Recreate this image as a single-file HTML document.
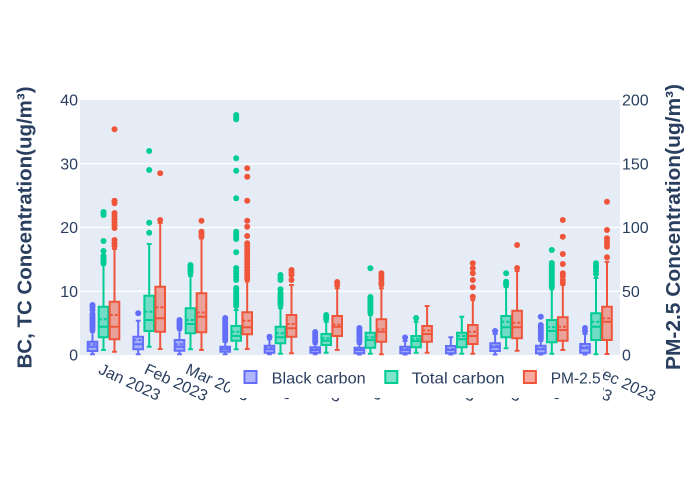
<!DOCTYPE html>
<html><head><meta charset="utf-8">
<style>
html,body{margin:0;padding:0;background:#fff;}
svg{display:block;font-family:"Liberation Sans",sans-serif;}
.ax{fill:#2a3f5f;font-size:16px;}
g.bx path{fill:none;stroke-width:2;}
.b path{stroke:#636efa}.b .f{fill:rgba(99,110,250,.5)}.b circle{fill:#636efa}
.t path{stroke:#00cc96}.t .f{fill:rgba(0,204,150,.5)}.t circle{fill:#00cc96}
.p path{stroke:#ef553b}.p .f{fill:rgba(239,85,59,.5)}.p circle{fill:#ef553b}
.d{stroke-dasharray:3 2}
</style></head><body>
<svg width="700" height="500" viewBox="0 0 700 500" xmlns="http://www.w3.org/2000/svg">
<rect width="700" height="500" fill="#fff"/>
<rect x="80" y="100" width="540" height="255" fill="#e5ecf6"/>
<g stroke="#fff" stroke-width="1.3">
<path d="M80 291.25H620M80 227.5H620M80 163.75H620"/>
</g>
<defs><clipPath id="c"><rect x="80" y="100" width="540" height="255.5"/></clipPath></defs>
<g clip-path="url(#c)">
<!-- Black carbon -->
<g class="bx b">
<g transform="translate(92.5 0)"><path class="f" d="M-4.8 341.7H4.8V351H-4.8Z"/><path d="M-4.8 346.7H4.8M0 341.7V332M-2.4 332H2.4M0 351V354.3M-2.4 354.3H2.4"/><path class="d" d="M-4.8 344.3H4.8"/><circle cy="305" r="3"/><circle cy="307" r="3"/><circle cy="310" r="3"/><circle cy="314" r="3"/><circle cy="316" r="3"/><circle cy="318" r="3"/><circle cy="320" r="3"/><circle cy="322" r="3"/><circle cy="324" r="3"/><circle cy="326" r="3"/><circle cy="328" r="3"/><circle cy="330" r="3"/></g>
<g transform="translate(138.2 0)"><path class="f" d="M-4.8 336.7H4.8V349.3H-4.8Z"/><path d="M-4.8 344.3H4.8M0 336.7V320.7M-2.4 320.7H2.4M0 349.3V354.3M-2.4 354.3H2.4"/><path class="d" d="M-4.8 340H4.8"/><circle cy="313.3" r="3"/></g>
<g transform="translate(179.5 0)"><path class="f" d="M-4.8 340H4.8V350.7H-4.8Z"/><path d="M-4.8 346.7H4.8M0 340V330M-2.4 330H2.4M0 350.7V354.3M-2.4 354.3H2.4"/><path class="d" d="M-4.8 344.3H4.8"/><circle cy="320" r="3"/><circle cy="322" r="3"/><circle cy="324" r="3"/><circle cy="326" r="3"/><circle cy="328" r="3"/></g>
<g transform="translate(225.2 0)"><path class="f" d="M-4.8 346.7H4.8V351.7H-4.8Z"/><path d="M-4.8 349.3H4.8M0 346.7V342M-2.4 342H2.4M0 351.7V354.3M-2.4 354.3H2.4"/><path class="d" d="M-4.8 348.5H4.8"/><circle cy="318" r="3"/><circle cy="320" r="3"/><circle cy="322" r="3"/><circle cy="324" r="3"/><circle cy="326" r="3"/><circle cy="328" r="3"/><circle cy="330" r="3"/><circle cy="332" r="3"/><circle cy="334" r="3"/><circle cy="336" r="3"/><circle cy="338" r="3"/><circle cy="340" r="3"/></g>
<g transform="translate(269.5 0)"><path class="f" d="M-4.8 345.7H4.8V352.7H-4.8Z"/><path d="M-4.8 349.3H4.8M0 345.7V339.3M-2.4 339.3H2.4M0 352.7V354.3M-2.4 354.3H2.4"/><path class="d" d="M-4.8 348H4.8"/><circle cy="336.7" r="3"/></g>
<g transform="translate(315.2 0)"><path class="f" d="M-4.8 347.3H4.8V352.7H-4.8Z"/><path d="M-4.8 350H4.8M0 347.3V344M-2.4 344H2.4M0 352.7V354.3M-2.4 354.3H2.4"/><path class="d" d="M-4.8 349.3H4.8"/><circle cy="332" r="3"/><circle cy="334" r="3"/><circle cy="336" r="3"/><circle cy="338" r="3"/><circle cy="340" r="3"/><circle cy="342" r="3"/></g>
<g transform="translate(359.4 0)"><path class="f" d="M-4.8 347.7H4.8V353.3H-4.8Z"/><path d="M-4.8 350H4.8M0 347.7V344M-2.4 344H2.4M0 353.3V354.5M-2.4 354.5H2.4"/><path class="d" d="M-4.8 349.3H4.8"/><circle cy="328" r="3"/><circle cy="330" r="3"/><circle cy="332" r="3"/><circle cy="334" r="3"/><circle cy="336" r="3"/><circle cy="338" r="3"/><circle cy="340" r="3"/><circle cy="342" r="3"/></g>
<g transform="translate(405.1 0)"><path class="f" d="M-4.8 346.7H4.8V353.3H-4.8Z"/><path d="M-4.8 350H4.8M0 346.7V341M-2.4 341H2.4M0 353.3V354.5M-2.4 354.5H2.4"/><path class="d" d="M-4.8 349H4.8"/><circle cy="337.5" r="3"/></g>
<g transform="translate(450.8 0)"><path class="f" d="M-4.8 346H4.8V353.3H-4.8Z"/><path d="M-4.8 350H4.8M0 346V337.3M-2.4 337.3H2.4M0 353.3V354.5M-2.4 354.5H2.4"/><path class="d" d="M-4.8 349H4.8"/></g>
<g transform="translate(495.1 0)"><path class="f" d="M-4.8 343.3H4.8V351H-4.8Z"/><path d="M-4.8 347.3H4.8M0 343.3V334M-2.4 334H2.4M0 351V354.5M-2.4 354.5H2.4"/><path class="d" d="M-4.8 346H4.8"/><circle cy="331" r="3"/></g>
<g transform="translate(540.8 0)"><path class="f" d="M-4.8 345.7H4.8V353.3H-4.8Z"/><path d="M-4.8 349.3H4.8M0 345.7V341M-2.4 341H2.4M0 353.3V354.5M-2.4 354.5H2.4"/><path class="d" d="M-4.8 348.5H4.8"/><circle cy="316.7" r="3"/><circle cy="325" r="3"/><circle cy="327" r="3"/><circle cy="329" r="3"/><circle cy="331" r="3"/><circle cy="333" r="3"/><circle cy="335" r="3"/><circle cy="337" r="3"/><circle cy="339" r="3"/></g>
<g transform="translate(585 0)"><path class="f" d="M-4.8 344H4.8V352.7H-4.8Z"/><path d="M-4.8 348.3H4.8M0 344V334M-2.4 334H2.4M0 352.7V354.5M-2.4 354.5H2.4"/><path class="d" d="M-4.8 347H4.8"/><circle cy="328" r="3"/><circle cy="331" r="3"/></g>
</g>
<!-- Total carbon -->
<g class="bx t">
<g transform="translate(103.5 0)"><path class="f" d="M-4.8 306.7H4.8V337.3H-4.8Z"/><path d="M-4.8 326.7H4.8M0 306.7V265M-2.4 265H2.4M0 337.3V350M-2.4 350H2.4"/><path class="d" d="M-4.8 319.3H4.8"/><circle cy="212" r="3"/><circle cy="213.5" r="3"/><circle cy="215" r="3"/><circle cy="241" r="3"/><circle cy="251" r="3"/><circle cy="256" r="3"/><circle cy="258" r="3"/><circle cy="260" r="3"/><circle cy="262" r="3"/><circle cy="263.5" r="3"/></g>
<g transform="translate(149.2 0)"><path class="f" d="M-4.8 295.7H4.8V331H-4.8Z"/><path d="M-4.8 320H4.8M0 295.7V244M-2.4 244H2.4M0 331V346.7M-2.4 346.7H2.4"/><path class="d" d="M-4.8 311.7H4.8"/><circle cy="151" r="3"/><circle cy="170" r="3"/><circle cy="222.7" r="3"/><circle cy="232.7" r="3"/></g>
<g transform="translate(190.5 0)"><path class="f" d="M-4.8 308.3H4.8V333.3H-4.8Z"/><path d="M-4.8 324H4.8M0 308.3V276M-2.4 276H2.4M0 333.3V349.3M-2.4 349.3H2.4"/><path class="d" d="M-4.8 320H4.8"/><circle cy="265" r="3"/><circle cy="267" r="3"/><circle cy="269" r="3"/><circle cy="271" r="3"/><circle cy="273" r="3"/></g>
<g transform="translate(236.2 0)"><path class="f" d="M-4.8 326H4.8V340.7H-4.8Z"/><path d="M-4.8 336H4.8M0 326V310M-2.4 310H2.4M0 340.7V349.3M-2.4 349.3H2.4"/><path class="d" d="M-4.8 331.7H4.8"/><circle cy="115" r="3"/><circle cy="117.3" r="3"/><circle cy="119.3" r="3"/><circle cy="158.3" r="3"/><circle cy="170.7" r="3"/><circle cy="198.3" r="3"/><circle cy="231.7" r="3"/><circle cy="234" r="3"/><circle cy="236.5" r="3"/><circle cy="239" r="3"/><circle cy="252.3" r="3"/><circle cy="268" r="3"/><circle cy="271" r="3"/><circle cy="274" r="3"/><circle cy="277" r="3"/><circle cy="280" r="3"/><circle cy="288" r="3"/><circle cy="290" r="3"/><circle cy="292" r="3"/><circle cy="294" r="3"/><circle cy="296" r="3"/><circle cy="298" r="3"/><circle cy="300" r="3"/><circle cy="302" r="3"/><circle cy="304" r="3"/><circle cy="306" r="3"/></g>
<g transform="translate(280.5 0)"><path class="f" d="M-4.8 326.7H4.8V343.3H-4.8Z"/><path d="M-4.8 337.3H4.8M0 326.7V308.3M-2.4 308.3H2.4M0 343.3V353.7M-2.4 353.7H2.4"/><path class="d" d="M-4.8 333.3H4.8"/><circle cy="275" r="3"/><circle cy="277.5" r="3"/><circle cy="280" r="3"/><circle cy="289.3" r="3"/><circle cy="293" r="3"/><circle cy="295" r="3"/><circle cy="297" r="3"/><circle cy="299" r="3"/><circle cy="301" r="3"/><circle cy="303" r="3"/><circle cy="305" r="3"/></g>
<g transform="translate(326.2 0)"><path class="f" d="M-4.8 334H4.8V345H-4.8Z"/><path d="M-4.8 340.7H4.8M0 334V321.7M-2.4 321.7H2.4M0 345V352.7M-2.4 352.7H2.4"/><path class="d" d="M-4.8 338.3H4.8"/><circle cy="315" r="3"/><circle cy="317" r="3"/><circle cy="319" r="3"/></g>
<g transform="translate(370.4 0)"><path class="f" d="M-4.8 332.7H4.8V347.7H-4.8Z"/><path d="M-4.8 340H4.8M0 332.7V315M-2.4 315H2.4M0 347.7V353.7M-2.4 353.7H2.4"/><path class="d" d="M-4.8 337.3H4.8"/><circle cy="268.3" r="3"/><circle cy="297" r="3"/><circle cy="299" r="3"/><circle cy="301" r="3"/><circle cy="303" r="3"/><circle cy="305" r="3"/><circle cy="307" r="3"/><circle cy="309" r="3"/><circle cy="311" r="3"/><circle cy="313" r="3"/></g>
<g transform="translate(416.1 0)"><path class="f" d="M-4.8 336H4.8V347.3H-4.8Z"/><path d="M-4.8 341H4.8M0 336V321.7M-2.4 321.7H2.4M0 347.3V352.7M-2.4 352.7H2.4"/><path class="d" d="M-4.8 338.7H4.8"/><circle cy="318" r="3"/></g>
<g transform="translate(461.8 0)"><path class="f" d="M-4.8 332.7H4.8V347.3H-4.8Z"/><path d="M-4.8 339.3H4.8M0 332.7V316.7M-2.4 316.7H2.4M0 347.3V353.7M-2.4 353.7H2.4"/><path class="d" d="M-4.8 336H4.8"/></g>
<g transform="translate(506.1 0)"><path class="f" d="M-4.8 316H4.8V337.3H-4.8Z"/><path d="M-4.8 327.3H4.8M0 316V287M-2.4 287H2.4M0 337.3V348.3M-2.4 348.3H2.4"/><path class="d" d="M-4.8 321.7H4.8"/><circle cy="273.3" r="3"/><circle cy="281.7" r="3"/><circle cy="283.3" r="3"/><circle cy="285" r="3"/></g>
<g transform="translate(551.8 0)"><path class="f" d="M-4.8 320H4.8V342.3H-4.8Z"/><path d="M-4.8 331H4.8M0 320V289.3M-2.4 289.3H2.4M0 342.3V353.7M-2.4 353.7H2.4"/><path class="d" d="M-4.8 327.3H4.8"/><circle cy="250" r="3"/><circle cy="263" r="3"/><circle cy="265" r="3"/><circle cy="267" r="3"/><circle cy="269" r="3"/><circle cy="271" r="3"/><circle cy="273" r="3"/><circle cy="275" r="3"/><circle cy="277" r="3"/><circle cy="279" r="3"/><circle cy="281" r="3"/><circle cy="283" r="3"/><circle cy="285" r="3"/><circle cy="287" r="3"/></g>
<g transform="translate(596 0)"><path class="f" d="M-4.8 313.3H4.8V340H-4.8Z"/><path d="M-4.8 326.7H4.8M0 313.3V278M-2.4 278H2.4M0 340V354.3M-2.4 354.3H2.4"/><path class="d" d="M-4.8 321.7H4.8"/><circle cy="263.3" r="3"/><circle cy="265.5" r="3"/><circle cy="268" r="3"/><circle cy="271" r="3"/><circle cy="274" r="3"/></g>
</g>
<!-- PM-2.5 -->
<g class="bx p">
<g transform="translate(114.5 0)"><path class="f" d="M-4.8 301.7H4.8V339.3H-4.8Z"/><path d="M-4.8 326.7H4.8M0 301.7V249M-2.4 249H2.4M0 339.3V351.7M-2.4 351.7H2.4"/><path class="d" d="M-4.8 315H4.8"/><circle cy="129.3" r="3"/><circle cy="200.7" r="3"/><circle cy="203.3" r="3"/><circle cy="213" r="3"/><circle cy="216" r="3"/><circle cy="219" r="3"/><circle cy="222" r="3"/><circle cy="225" r="3"/><circle cy="228" r="3"/><circle cy="240" r="3"/><circle cy="243" r="3"/><circle cy="246" r="3"/></g>
<g transform="translate(160.2 0)"><path class="f" d="M-4.8 286.7H4.8V331.7H-4.8Z"/><path d="M-4.8 318.3H4.8M0 286.7V223M-2.4 223H2.4M0 331.7V349M-2.4 349H2.4"/><path class="d" d="M-4.8 307.3H4.8"/><circle cy="173.3" r="3"/><circle cy="220" r="3"/></g>
<g transform="translate(201.5 0)"><path class="f" d="M-4.8 293.3H4.8V332.3H-4.8Z"/><path d="M-4.8 316.7H4.8M0 293.3V238.5M-2.4 238.5H2.4M0 332.3V350M-2.4 350H2.4"/><path class="d" d="M-4.8 312.5H4.8"/><circle cy="220.7" r="3"/><circle cy="231.7" r="3"/><circle cy="234" r="3"/><circle cy="236.5" r="3"/></g>
<g transform="translate(247.2 0)"><path class="f" d="M-4.8 312.3H4.8V334.3H-4.8Z"/><path d="M-4.8 327.3H4.8M0 312.3V281.5M-2.4 281.5H2.4M0 334.3V349M-2.4 349H2.4"/><path class="d" d="M-4.8 320.7H4.8"/><circle cy="168.3" r="3"/><circle cy="176.7" r="3"/><circle cy="200.7" r="3"/><circle cy="220.7" r="3"/><circle cy="226.7" r="3"/><circle cy="236" r="3"/><circle cy="243.3" r="3"/><circle cy="246" r="3"/><circle cy="249" r="3"/><circle cy="252" r="3"/><circle cy="255" r="3"/><circle cy="258" r="3"/><circle cy="261" r="3"/><circle cy="264" r="3"/><circle cy="267" r="3"/><circle cy="270" r="3"/><circle cy="273" r="3"/><circle cy="276" r="3"/><circle cy="279" r="3"/></g>
<g transform="translate(291.5 0)"><path class="f" d="M-4.8 315H4.8V336.7H-4.8Z"/><path d="M-4.8 328.3H4.8M0 315V285M-2.4 285H2.4M0 336.7V353.3M-2.4 353.3H2.4"/><path class="d" d="M-4.8 324H4.8"/><circle cy="270" r="3"/><circle cy="272.5" r="3"/><circle cy="275" r="3"/><circle cy="280" r="3"/></g>
<g transform="translate(337.2 0)"><path class="f" d="M-4.8 316H4.8V336H-4.8Z"/><path d="M-4.8 326.7H4.8M0 316V288.3M-2.4 288.3H2.4M0 336V350M-2.4 350H2.4"/><path class="d" d="M-4.8 324.5H4.8"/><circle cy="282" r="3"/><circle cy="285" r="3"/></g>
<g transform="translate(381.4 0)"><path class="f" d="M-4.8 319.3H4.8V341.7H-4.8Z"/><path d="M-4.8 331.7H4.8M0 319.3V288.3M-2.4 288.3H2.4M0 341.7V354.3M-2.4 354.3H2.4"/><path class="d" d="M-4.8 329.3H4.8"/><circle cy="273.3" r="3"/><circle cy="276" r="3"/><circle cy="279" r="3"/><circle cy="282" r="3"/><circle cy="284.5" r="3"/></g>
<g transform="translate(427.1 0)"><path class="f" d="M-4.8 326H4.8V341.7H-4.8Z"/><path d="M-4.8 334H4.8M0 326V306M-2.4 306H2.4M0 341.7V352.7M-2.4 352.7H2.4"/><path class="d" d="M-4.8 330.5H4.8"/></g>
<g transform="translate(472.8 0)"><path class="f" d="M-4.8 325H4.8V344H-4.8Z"/><path d="M-4.8 336H4.8M0 325V300M-2.4 300H2.4M0 344V353.7M-2.4 353.7H2.4"/><path class="d" d="M-4.8 331.7H4.8"/><circle cy="263.3" r="3"/><circle cy="268.3" r="3"/><circle cy="273.3" r="3"/><circle cy="280" r="3"/><circle cy="287.3" r="3"/><circle cy="296.7" r="3"/></g>
<g transform="translate(517.1 0)"><path class="f" d="M-4.8 310.7H4.8V338.3H-4.8Z"/><path d="M-4.8 327.3H4.8M0 310.7V271M-2.4 271H2.4M0 338.3V350.7M-2.4 350.7H2.4"/><path class="d" d="M-4.8 322.7H4.8"/><circle cy="245" r="3"/><circle cy="268" r="3"/></g>
<g transform="translate(562.8 0)"><path class="f" d="M-4.8 317.3H4.8V340.7H-4.8Z"/><path d="M-4.8 330H4.8M0 317.3V285M-2.4 285H2.4M0 340.7V350M-2.4 350H2.4"/><path class="d" d="M-4.8 326.7H4.8"/><circle cy="220" r="3"/><circle cy="236.7" r="3"/><circle cy="254" r="3"/><circle cy="264" r="3"/><circle cy="273.3" r="3"/><circle cy="276" r="3"/><circle cy="280" r="3"/><circle cy="283" r="3"/></g>
<g transform="translate(607 0)"><path class="f" d="M-4.8 306.7H4.8V340H-4.8Z"/><path d="M-4.8 321.7H4.8M0 306.7V261.7M-2.4 261.7H2.4M0 340V354M-2.4 354H2.4"/><path class="d" d="M-4.8 318.3H4.8"/><circle cy="201.7" r="3"/><circle cy="230" r="3"/><circle cy="238.3" r="3"/><circle cy="241" r="3"/><circle cy="243.3" r="3"/><circle cy="246.7" r="3"/><circle cy="257.3" r="3"/></g>
</g>
</g>
<!-- left ticks -->
<g class="ax" text-anchor="end">
<text x="78" y="360.7">0</text>
<text x="78" y="296.9">10</text>
<text x="78" y="233.2">20</text>
<text x="78" y="169.4">30</text>
<text x="78" y="105.7">40</text>
</g>
<g class="ax" text-anchor="start">
<text x="622" y="360.7">0</text>
<text x="622" y="296.9">50</text>
<text x="622" y="233.2">100</text>
<text x="622" y="169.4">150</text>
<text x="622" y="105.7">200</text>
</g>
<!-- x tick labels -->
<g class="ax">
<text transform="translate(97.5 373) rotate(25)">Jan 2023</text>
<text transform="translate(143.2 373) rotate(25)">Feb 2023</text>
<text transform="translate(184.5 373) rotate(25)">Mar 2023</text>
<text transform="translate(230.2 373) rotate(25)">Apr 2023</text>
<text transform="translate(274.5 373) rotate(25)">May 2023</text>
<text transform="translate(320.2 373) rotate(25)">Jun 2023</text>
<text transform="translate(364.4 373) rotate(25)">Jul 2023</text>
<text transform="translate(410.1 373) rotate(25)">Aug 2023</text>
<text transform="translate(455.8 373) rotate(25)">Sep 2023</text>
<text transform="translate(500.1 373) rotate(25)">Oct 2023</text>
<text transform="translate(546.8 373) rotate(25)">Nov 2023</text>
<text transform="translate(590.5 373) rotate(25)">Dec 2023</text>
</g>
<!-- axis titles -->
<text transform="translate(31.7 227.5) rotate(-90)" text-anchor="middle" fill="#2a3f5f" font-size="20" font-weight="bold" textLength="282" lengthAdjust="spacingAndGlyphs">BC, TC Concentration(ug/m³)</text>
<text transform="translate(680 227) rotate(-90)" text-anchor="middle" fill="#2a3f5f" font-size="20" font-weight="bold" textLength="286" lengthAdjust="spacingAndGlyphs">PM-2.5 Concentration(ug/m³)</text>
<!-- legend -->
<rect x="230" y="357" width="373" height="41" fill="#fff"/>
<path d="M256.5 383H244.5V371H256.5Z" fill="rgba(99,110,250,.5)" stroke="#636efa" stroke-width="2"/>
<path d="M397.3 383H385.3V371H397.3Z" fill="rgba(0,204,150,.5)" stroke="#00cc96" stroke-width="2"/>
<path d="M535.9 383H523.9V371H535.9Z" fill="rgba(239,85,59,.5)" stroke="#ef553b" stroke-width="2"/>
<g class="ax">
<text x="271.7" y="383.5" textLength="94" lengthAdjust="spacingAndGlyphs">Black carbon</text>
<text x="411.7" y="383.5" textLength="93" lengthAdjust="spacingAndGlyphs">Total carbon</text>
<text x="550.7" y="383.5" textLength="50" lengthAdjust="spacingAndGlyphs">PM-2.5</text>
</g>
</svg>
</body></html>
